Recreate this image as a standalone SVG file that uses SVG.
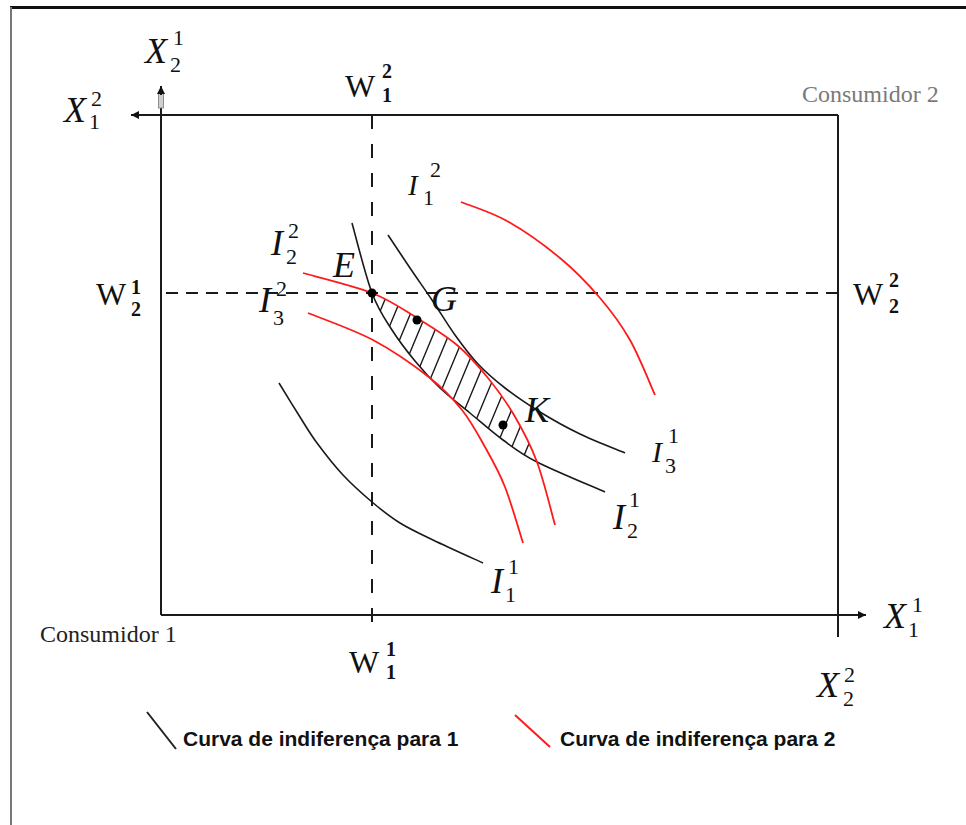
<svg xmlns="http://www.w3.org/2000/svg" width="966" height="825" viewBox="0 0 966 825">
<defs>
<marker id="arr" viewBox="0 0 10 10" refX="10" refY="5" markerWidth="9" markerHeight="8" markerUnits="userSpaceOnUse" orient="auto"><path d="M0,0 L10,5 L0,10 z" fill="#111"/></marker>
<clipPath id="lens"><path d="M372,293 C391,300.5 402.8,309.3 417,318 C431.2,326.7 445.2,335 457,345 C468.8,355 478.5,366.3 488,378 C497.5,389.7 505.8,401 514,415 C522.2,429 530.2,443.7 537,462 C520,453.3 514.2,448.2 503,440 C491.8,431.8 480.5,421.7 470,413 C459.5,404.3 449.2,396.7 440,388 C430.8,379.3 423,370.7 415,361 C407,351.3 399.2,341.3 392,330 C384.8,318.7 378.7,310.8 372,293 Z"/></clipPath>
</defs>
<style>
.ax{stroke:#1a1a1a;stroke-width:2;fill:none}
.dh{stroke:#1a1a1a;stroke-width:2;stroke-dasharray:12 8;fill:none}
.dv{stroke:#1a1a1a;stroke-width:2;stroke-dasharray:14 15;fill:none}
.c1{stroke:#1a1a1a;stroke-width:1.6;fill:none}
.c2{stroke:#ff1a1a;stroke-width:1.8;fill:none}
.hat{stroke:#1a1a1a;stroke-width:1.4;fill:none}
.m{font-family:"Liberation Serif","Times New Roman",serif;font-style:italic;fill:#111}
.b{font-size:36px}
.s{font-size:30px}
.sc{font-family:"Liberation Serif","Times New Roman",serif;font-size:22px;fill:#111}
.w{font-family:"Liberation Serif","Times New Roman",serif;font-size:32px;fill:#111}
.wd{font-family:"Liberation Serif","Times New Roman",serif;font-size:20px;font-weight:bold;fill:#111}
.cons{font-family:"Liberation Serif","Times New Roman",serif;font-size:24px}
.lg{font-family:"Liberation Sans",Arial,sans-serif;font-size:21px;font-weight:bold;fill:#111}
.dot{fill:#000}
</style>
<rect x="0" y="0" width="966" height="825" fill="#fff"/>

<g id="frame">
<line x1="10" y1="7.5" x2="966" y2="7.5" stroke="#111" stroke-width="3"/>
<line x1="11" y1="7" x2="11" y2="825" stroke="#777" stroke-width="2"/>
</g>

<g id="axes">
<line class="ax" x1="838" y1="115" x2="131" y2="115" marker-end="url(#arr)"/>
<line class="ax" x1="161" y1="615" x2="161" y2="108"/>
<rect x="158.5" y="93" width="5" height="15" fill="#cfcfcf" stroke="#777" stroke-width="0.8"/>
<line class="ax" x1="161" y1="95" x2="161" y2="86" marker-end="url(#arr)"/>
<line class="ax" x1="161" y1="615" x2="866" y2="615" marker-end="url(#arr)"/>
<line class="ax" x1="838" y1="115" x2="838" y2="637"/>
</g>

<g id="guides">
<line class="dh" x1="166" y1="293" x2="837" y2="293"/>
<line class="dv" x1="372" y1="115" x2="372" y2="630"/>
</g>

<g id="hatch" clip-path="url(#lens)">
<path class="hat" d="M353,376.3 L413,232.3 M364,387.5 L424,243.5 M375,398.8 L435,254.8 M386,410.1 L446,266.1 M397,421.4 L457,277.4 M408,432.6 L468,288.6 M419,443.9 L479,299.9 M430,455.2 L490,311.2 M441,466.4 L501,322.4 M452,477.7 L512,333.7 M463,489 L523,345 M474,500.2 L534,356.2 M485,511.5 L545,367.5 M496,522.8 L556,378.8"/>
</g>

<g id="curves-consumer1">
<path id="I11" class="c1" d="M279,383 C282.5,388.7 293.7,407 300,417 C306.3,427 309.8,433.3 317,443 C324.2,452.7 333.8,465.2 343,475 C352.2,484.8 362.5,494 372,502 C381.5,510 389.8,516.7 400,523 C410.2,529.3 419.2,533.3 433,540 C446.8,546.7 474.7,559.2 483,563"/>
<path id="I21" class="c1" d="M352,223 C355.3,234.7 365.3,275.2 372,293 C378.7,310.8 384.8,318.7 392,330 C399.2,341.3 407,351.3 415,361 C423,370.7 430.8,379.3 440,388 C449.2,396.7 459.5,404.3 470,413 C480.5,421.7 491.8,431.8 503,440 C514.2,448.2 520,453.3 537,462 C554,470.7 593.7,487 605,492"/>
<path id="I31" class="c1" d="M388,235 C391.7,240.5 402.7,257.2 410,268 C417.3,278.8 424.5,288.8 432,300 C439.5,311.2 447.3,324.3 455,335 C462.7,345.7 469.7,355.2 478,364 C486.3,372.8 494.7,380 505,388 C515.3,396 527.5,404.3 540,412 C552.5,419.7 565.8,427.2 580,434 C594.2,440.8 617.5,449.8 625,453"/>
</g>

<g id="curves-consumer2">
<path id="I12" class="c2" d="M461,202 C468.7,205.2 490.5,211.7 507,221 C523.5,230.3 544.5,245.2 560,258 C575.5,270.8 588.3,284.3 600,298 C611.7,311.7 620.8,323.8 630,340 C639.2,356.2 650.8,385.8 655,395"/>
<path id="I22" class="c2" d="M303,273 C314.5,276.3 353,285.5 372,293 C391,300.5 402.8,309.3 417,318 C431.2,326.7 445.2,335 457,345 C468.8,355 478.5,366.3 488,378 C497.5,389.7 505.8,401 514,415 C522.2,429 530.2,443.7 537,462 C543.8,480.3 552,514.5 555,525"/>
<path id="I32" class="c2" d="M308,313 C318.8,317.5 352.7,329.2 373,340 C393.3,350.8 415.2,366.3 430,378 C444.8,389.7 452.8,398.5 462,410 C471.2,421.5 477.8,434.2 485,447 C492.2,459.8 498.7,471 505,487 C511.3,503 520,533.7 523,543"/>
</g>

<g id="points">
<circle id="pE" class="dot" cx="372" cy="293" r="4.5"/>
<circle id="pG" class="dot" cx="417" cy="320" r="4.5"/>
<circle id="pK" class="dot" cx="503" cy="425" r="4.5"/>
</g>

<g id="labels">
<g id="lbl-X21"><text class="m b" x="145" y="63">X</text><text class="sc" x="173" y="45">1</text><text class="sc" x="170" y="72">2</text></g>
<g id="lbl-X12"><text class="m b" x="64" y="122">X</text><text class="sc" x="91" y="106">2</text><text class="sc" x="89" y="129">1</text></g>
<g id="lbl-X11"><text class="m b" x="884" y="628">X</text><text class="sc" x="912" y="612">1</text><text class="sc" x="908" y="637">1</text></g>
<g id="lbl-X22"><text class="m b" x="817" y="697">X</text><text class="sc" x="844" y="682">2</text><text class="sc" x="843" y="706">2</text></g>

<g id="lbl-W12"><text class="w" x="345" y="97">W</text><text class="wd" x="382" y="78">2</text><text class="wd" x="382" y="102">1</text></g>
<g id="lbl-W21"><text class="w" x="96" y="305">W</text><text class="wd" x="131" y="294">1</text><text class="wd" x="131" y="316">2</text></g>
<g id="lbl-W22"><text class="w" x="853" y="305">W</text><text class="wd" x="889" y="287">2</text><text class="wd" x="889" y="313">2</text></g>
<g id="lbl-W11"><text class="w" x="349" y="673">W</text><text class="wd" x="386" y="656">1</text><text class="wd" x="386" y="679">1</text></g>

<text class="cons" x="802" y="102" fill="#7a7a7a">Consumidor 2</text>
<text class="cons" x="40" y="642" fill="#222">Consumidor 1</text>

<g id="lbl-I12"><text class="m" style="font-size:29px" x="408" y="195">I</text><text class="sc" x="430" y="177">2</text><text class="sc" x="423" y="205">1</text></g>
<g id="lbl-I22"><text class="m b" x="271" y="255">I</text><text class="sc" x="288" y="238">2</text><text class="sc" x="286" y="264">2</text></g>
<g id="lbl-I32"><text class="m b" x="259" y="312">I</text><text class="sc" x="276" y="296">2</text><text class="sc" x="273" y="325">3</text></g>
<g id="lbl-I31"><text class="m s" x="652" y="462">I</text><text class="sc" x="668" y="443">1</text><text class="sc" x="665" y="473">3</text></g>
<g id="lbl-I21"><text class="m b" x="613" y="529">I</text><text class="sc" x="629" y="507">1</text><text class="sc" x="627" y="538">2</text></g>
<g id="lbl-I11"><text class="m b" x="491" y="593">I</text><text class="sc" x="508" y="574">1</text><text class="sc" x="505" y="602">1</text></g>

<text class="m b" x="333" y="277">E</text>
<text class="m b" x="431" y="311">G</text>
<text class="m b" x="525" y="422">K</text>
</g>

<g id="legend">
<line x1="147" y1="712" x2="176" y2="749" stroke="#222" stroke-width="2"/>
<text class="lg" x="183" y="746">Curva de indiferença para 1</text>
<line x1="515" y1="715" x2="550" y2="747" stroke="#ff1a1a" stroke-width="2"/>
<text class="lg" x="560" y="746">Curva de indiferença para 2</text>
</g>
</svg>
